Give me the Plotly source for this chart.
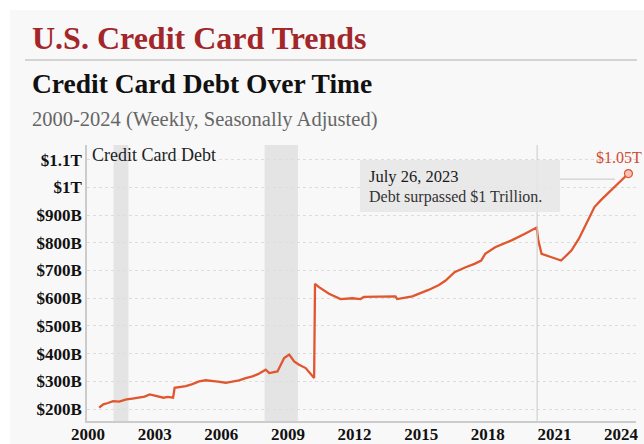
import plotly.graph_objects as go

# Data (decimal years, billions USD)
years = [2000.50, 2000.69, 2000.90, 2001.13, 2001.40, 2001.73, 2002.00, 2002.33, 2002.55, 2002.78,
         2003.08, 2003.25, 2003.40, 2003.60, 2003.83, 2003.90, 2004.15, 2004.40, 2004.70, 2005.00,
         2005.30, 2005.60, 2005.85, 2006.20, 2006.50, 2006.80, 2007.10, 2007.40, 2007.65, 2007.86,
         2008.00, 2008.16, 2008.35, 2008.53, 2008.83, 2009.06, 2009.28, 2009.50, 2009.80, 2010.00,
         2010.18, 2010.22, 2010.40, 2010.85, 2011.37, 2011.90, 2012.27, 2012.42, 2013.10, 2013.54,
         2013.84, 2013.92, 2014.60, 2015.33, 2015.80, 2016.10, 2016.50, 2017.00, 2017.40, 2017.70,
         2017.88, 2018.33, 2018.70, 2019.07, 2019.67, 2020.20, 2020.27, 2020.42, 2020.87, 2021.30,
         2021.76, 2022.10, 2022.36, 2022.80, 2023.10, 2023.40, 2023.86, 2024.33]
debt = [205, 217, 222, 229, 227, 235, 238, 241, 245, 253,
        247, 243, 241, 244, 241, 277, 280, 283, 290, 300,
        304, 300, 299, 295, 300, 304, 312, 318, 326, 336,
        342, 330, 333, 336, 384, 397, 372, 360, 348, 330,
        312, 652, 640, 616, 597, 600, 597, 605, 605, 607,
        607, 597, 607, 630, 648, 664, 694, 712, 724, 736,
        760, 784, 796, 809, 833, 855, 809, 760, 748, 736,
        772, 815, 857, 929, 955, 978, 1014, 1050]

recessions = [(2001.15, 2001.82), (2007.95, 2009.45)]
marker_year = 2020.22
y_ticks = [200, 300, 400, 500, 600, 700, 800, 900, 1000, 1100]
y_labels = ["$200B", "$300B", "$400B", "$500B", "$600B", "$700B", "$800B", "$900B", "$1T", "$1.1T"]
x_ticks = [2000, 2003, 2006, 2009, 2012, 2015, 2018, 2021, 2024]

SERIF = "Liberation Serif, Times New Roman, serif"
LINE = "#e0562f"

fig = go.Figure()

for x0, x1 in recessions:
    fig.add_vrect(x0=x0, x1=x1, fillcolor="#e4e4e4", line_width=0, layer="below")

fig.add_trace(go.Scatter(x=years, y=debt, mode="lines",
                         line=dict(color=LINE, width=2.3), hoverinfo="skip", showlegend=False))
fig.add_trace(go.Scatter(x=[years[-1]], y=[debt[-1]], mode="markers",
                         marker=dict(size=8, color="#f6c4b6", line=dict(color=LINE, width=1.2)),
                         hoverinfo="skip", showlegend=False))

# coordinates below are in screenshot pixels (page body margin removed)
W, H = 644, 444
L, R, T, B = 87, 636, 145, 421
def px(p): return (p - L) / (R - L)
def py(p): return (B - p) / (B - T)

# white outer margin at top and left
fig.add_shape(type="rect", xref="paper", yref="paper", x0=px(0), x1=px(W), y0=py(10), y1=py(0),
              fillcolor="white", line_width=0, layer="below")
fig.add_shape(type="rect", xref="paper", yref="paper", x0=px(0), x1=px(10), y0=py(H), y1=py(0),
              fillcolor="white", line_width=0, layer="below")

fig.add_shape(type="line", xref="paper", yref="paper", x0=px(25), x1=px(637), y0=py(60), y1=py(60),
              line=dict(color="#c8c8c8", width=1.5))

# vertical reference line
fig.add_shape(type="line", xref="x", yref="paper", x0=marker_year, x1=marker_year, y0=0, y1=1,
              line=dict(color="#d2d2d2", width=1.2))
# annotation box
fig.add_shape(type="rect", xref="paper", yref="paper", x0=px(360), x1=px(560), y0=py(212), y1=py(160),
              fillcolor="rgba(230,230,230,0.85)", line_width=0)
fig.add_shape(type="line", xref="paper", yref="y", x0=px(560), x1=px(615), y0=1030, y1=1030,
              line=dict(color="#cfcfcf", width=1.2))

fig.add_annotation(xref="paper", yref="paper", x=px(367), y=py(176), text="July 26, 2023",
                   showarrow=False, xanchor="left", yanchor="middle",
                   font=dict(family=SERIF, size=16.5, color="#1a1a1a"))
fig.add_annotation(xref="paper", yref="paper", x=px(367), y=py(197), text="Debt surpassed $1 Trillion.",
                   showarrow=False, xanchor="left", yanchor="middle",
                   font=dict(family=SERIF, size=16, color="#333"))
fig.add_annotation(xref="paper", yref="paper", x=px(644), y=py(157), text="$1.05T",
                   showarrow=False, xanchor="right", yanchor="middle",
                   font=dict(family=SERIF, size=16, color="#d04a30"))
fig.add_annotation(xref="paper", yref="paper", x=px(90), y=py(155), text="Credit Card Debt",
                   showarrow=False, xanchor="left", yanchor="middle",
                   font=dict(family=SERIF, size=18, color="#222"))

# titles
fig.add_annotation(xref="paper", yref="paper", x=px(30), y=py(38), text="<b>U.S. Credit Card Trends</b>",
                   showarrow=False, xanchor="left", yanchor="middle",
                   font=dict(family=SERIF, size=32, color="#a3262a"))
fig.add_annotation(xref="paper", yref="paper", x=px(30), y=py(84), text="<b>Credit Card Debt Over Time</b>",
                   showarrow=False, xanchor="left", yanchor="middle",
                   font=dict(family=SERIF, size=27.5, color="#111"))
fig.add_annotation(xref="paper", yref="paper", x=px(30), y=py(119), text="2000-2024 (Weekly, Seasonally Adjusted)",
                   showarrow=False, xanchor="left", yanchor="middle",
                   font=dict(family=SERIF, size=20.5, color="#666"))

fig.update_xaxes(range=[1999.955, 2024.67], tickvals=x_ticks, ticktext=[f"<b>{t}</b>" for t in x_ticks],
                 showgrid=False, zeroline=False, showline=True, linecolor="#cccccc", linewidth=1.5,
                 ticks="", tickfont=dict(family=SERIF, size=17, color="#111"), fixedrange=True,
                 automargin=False, ticklabelstandoff=-3)
fig.update_yaxes(range=[157, 1153], tickvals=y_ticks, ticktext=[f"<b>{t}</b>" for t in y_labels],
                 showgrid=True, gridcolor="#dddddd", griddash="dot", gridwidth=1,
                 zeroline=False, showline=True, linecolor="#cccccc", linewidth=1.5,
                 ticks="", tickfont=dict(family=SERIF, size=17, color="#111"), fixedrange=True,
                 automargin=False)

fig.update_layout(width=W, height=H,
                  margin=dict(l=L, r=W - R, t=T, b=H - B),
                  paper_bgcolor="#f8f8f8", plot_bgcolor="#f8f8f8", showlegend=False)

fig.write_html("out.html", config={"displayModeBar": False},
               post_script="document.body.style.margin='0';document.body.style.overflow='hidden';")
